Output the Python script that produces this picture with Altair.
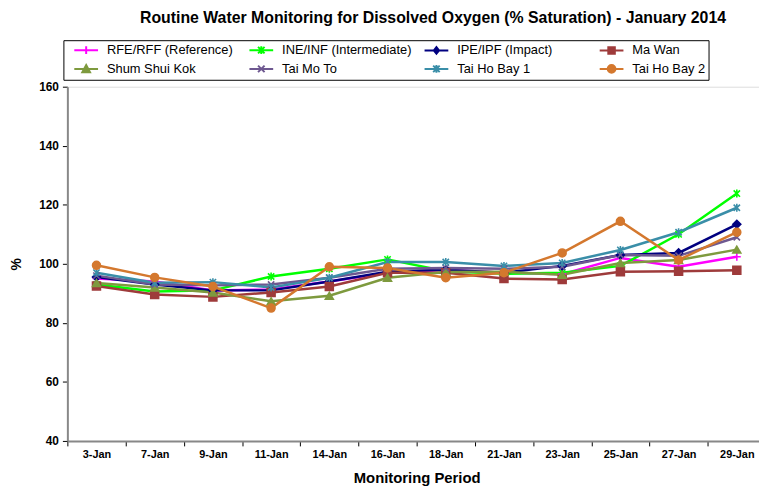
import altair as alt
import pandas as pd

dates = ["3-Jan", "7-Jan", "9-Jan", "11-Jan", "14-Jan", "16-Jan",
         "18-Jan", "21-Jan", "23-Jan", "25-Jan", "27-Jan", "29-Jan"]

series = ["RFE/RFF (Reference)", "INE/INF (Intermediate)", "IPE/IPF (Impact)", "Ma Wan",
          "Shum Shui Kok", "Tai Mo To", "Tai Ho Bay 1", "Tai Ho Bay 2"]

colors = ["#FF00FF", "#00FF00", "#000080", "#9E3B3B",
          "#7E9A3E", "#6E5890", "#3A8EA8", "#D4782E"]

rfe = [95.0, 94.0, 91.0, 91.3, 94.0, 97.0, 98.0, 97.0, 96.5, 102.0, 99.0, 102.4]
ine = [93.0, 90.6, 91.0, 95.7, 98.3, 101.5, 97.5, 96.6, 97.0, 99.3, 110.0, 123.8]
ipe = [95.5, 93.0, 91.0, 91.0, 94.0, 97.3, 98.0, 97.0, 99.3, 103.0, 103.7, 113.4]
ma_wan = [92.5, 89.6, 88.8, 90.3, 92.3, 97.0, 97.0, 95.0, 94.7, 97.3, 97.5, 97.8]
shum_shui_kok = [93.5, 92.0, 90.3, 87.3, 89.2, 95.3, 97.2, 97.3, 96.3, 100.3, 101.3, 104.8]
tai_mo_to = [96.0, 93.0, 92.7, 93.0, 95.3, 98.3, 98.6, 98.3, 99.0, 103.0, 102.7, 109.0]
tai_ho_bay_1 = [97.0, 93.6, 93.8, 92.0, 95.3, 100.6, 100.6, 99.3, 100.3, 104.7, 110.7, 119.0]
tai_ho_bay_2 = [99.5, 95.4, 92.3, 85.0, 99.0, 98.6, 95.3, 97.0, 103.7, 114.4, 101.3, 110.7]

all_values = [rfe, ine, ipe, ma_wan, shum_shui_kok, tai_mo_to, tai_ho_bay_1, tai_ho_bay_2]

rows = []
for s, vals in zip(series, all_values):
    for d, v in zip(dates, vals):
        rows.append({"series": s, "date": d, "value": v})
df = pd.DataFrame(rows)

PLUS = "M-1,0L1,0M0,-1L0,1"
XS = "M-0.8,-0.8L0.8,0.8M-0.8,0.8L0.8,-0.8"
STAR = "M-0.8,-0.8L0.8,0.8M-0.8,0.8L0.8,-0.8M0,-1L0,1"
plot_shapes = [PLUS, STAR, "diamond", "square", "triangle-up", XS, STAR, "circle"]


def mk(path):
    # marker path centred on (1, 0) plus a legend line from -1 to 3
    return "M-1,0L3,0" + path


m = 0.65
d = 0.55
legend_shapes = [
    mk(f"M1,-{m}L1,{m}"),
    mk(f"M{1-d},-{d}L{1+d},{d}M{1-d},{d}L{1+d},-{d}M1,-{m}L1,{m}"),
    mk(f"M1,-{d}L{1+d*0.8},0L1,{d}L{1-d*0.8},0Z"),
    mk(f"M{1-d},-{d}L{1+d},-{d}L{1+d},{d}L{1-d},{d}Z"),
    mk(f"M1,-{m}L{1+m},{d}L{1-m},{d}Z"),
    mk(f"M{1-d},-{d}L{1+d},{d}M{1-d},{d}L{1+d},-{d}"),
    mk(f"M{1-d},-{d}L{1+d},{d}M{1-d},{d}L{1+d},-{d}M1,-{m}L1,{m}"),
    mk(f"M{1-m},0A{m},{m},0,1,0,{1+m},0A{m},{m},0,1,0,{1-m},0Z"),
]

FONT = "Liberation Sans"

x_enc = alt.X(
    "date:N", sort=dates,
    scale=alt.Scale(domain=dates, range=[0, 706], paddingInner=0, paddingOuter=0),
    axis=alt.Axis(title="Monitoring Period", labelAngle=0, tickBand="extent",
                  labelFont=FONT, labelFontSize=11, labelFontWeight="bold", labelColor="black",
                  labelPadding=3, tickSize=5, tickColor="black",
                  domainColor="#888888", domainWidth=2,
                  titleFont=FONT, titleFontSize=15, titleFontWeight="bold", titleColor="black",
                  titleX=353, titleY=30),
)
y_enc = alt.Y(
    "value:Q",
    scale=alt.Scale(domain=[40, 160], nice=False, zero=False),
    axis=alt.Axis(title="%", values=[40, 60, 80, 100, 120, 140, 160], grid=False,
                  labelFont=FONT, labelFontSize=12, labelFontWeight="bold", labelColor="black",
                  labelPadding=4, tickSize=5, tickColor="black",
                  domainColor="#888888", domainWidth=2,
                  titleFont=FONT, titleFontSize=14, titleFontWeight="bold", titleColor="black",
                  titleX=-44, titleY=179),
)

base = alt.Chart(df).encode(x=x_enc, y=y_enc)

lines = base.mark_line(strokeWidth=2.5).encode(
    color=alt.Color("series:N", sort=series, scale=alt.Scale(domain=series, range=colors), legend=None),
)

points = base.mark_point(filled=True, size=64, strokeWidth=1.6, opacity=1).encode(
    fill=alt.Fill("series:N", scale=alt.Scale(domain=series, range=colors), legend=None),
    stroke=alt.Stroke("series:N", scale=alt.Scale(domain=series, range=colors), legend=None),
    shape=alt.Shape("series:N", scale=alt.Scale(domain=series, range=plot_shapes), legend=None),
)

leg = dict(title=None, orient="none", legendX=-4, legendY=-47, direction="horizontal",
           columns=4, gridAlign="all", columnPadding=5, rowPadding=3, padding=3,
           strokeColor="black", symbolSize=144, symbolStrokeWidth=2, symbolOffset=7,
           symbolOpacity=1, labelFont=FONT, labelFontSize=13, labelColor="black",
           labelOffset=20, labelLimit=400)

legend_layer = base.mark_point(filled=True, size=1, opacity=0).encode(
    fill=alt.Fill("series:N", scale=alt.Scale(domain=series, range=colors), legend=alt.Legend(**leg)),
    stroke=alt.Stroke("series:N", scale=alt.Scale(domain=series, range=colors), legend=alt.Legend(**leg)),
    shape=alt.Shape("series:N", scale=alt.Scale(domain=series, range=legend_shapes), legend=alt.Legend(**leg)),
)

chart = alt.layer(lines, points, legend_layer).resolve_scale(
    fill="independent", stroke="independent", shape="independent"
).properties(
    width=699, height=358,
    title=alt.TitleParams(
        "Routine Water Monitoring for Dissolved Oxygen (% Saturation) - January 2014",
        font=FONT, fontSize=16, fontWeight="bold", color="black", anchor="middle",
        dx=20, dy=-10,
    ),
    autosize=alt.AutoSizeParams(type="none"),
    padding={"left": 60, "top": 77, "right": 0, "bottom": 43},
).configure_view(stroke="#888888", strokeWidth=2).configure(background="white")

chart.save("out.html", embed_options={"renderer": "svg", "actions": False})
